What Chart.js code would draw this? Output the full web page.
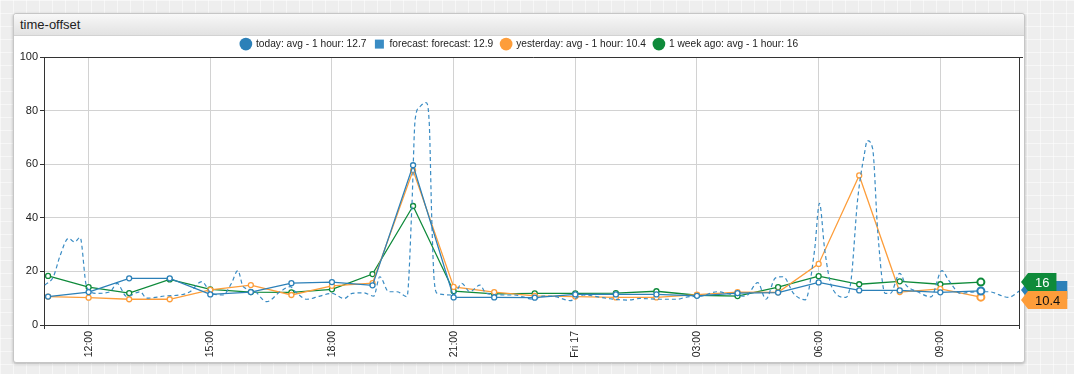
<!DOCTYPE html>
<html>
<head>
<meta charset="utf-8">
<title>time-offset</title>
<script src="https://cdn.jsdelivr.net/npm/chart.js@4.4.1/dist/chart.umd.min.js"></script>
<style>
  html, body { margin: 0; padding: 0; }
  body {
    width: 1074px; height: 374px; overflow: hidden; position: relative;
    background-color: #eeeeee;
    background-image: linear-gradient(rgba(255,255,255,.55) 1px, transparent 1px),
                      linear-gradient(90deg, rgba(255,255,255,.55) 1px, transparent 1px);
    background-size: 13px 13px;
    font-family: "Liberation Sans", Arial, sans-serif;
  }
  .widget {
    position: absolute; left: 13px; top: 13px; width: 1010px; height: 348px;
    background: #fff; border: 1px solid #c6c6c6; border-radius: 3px;
    box-shadow: 0 1px 3px rgba(0,0,0,.25);
  }
  .widget-header {
    height: 21px; line-height: 21px; padding-left: 6px;
    border-bottom: 1px solid #d2d2d2; border-radius: 3px 3px 0 0;
    background: linear-gradient(#f8f8f8, #e2e2e2);
    font-size: 13px; color: #222;
  }
  #wrap { position: absolute; left: 14px; top: 35px; width: 1060px; height: 326px; }
</style>
</head>
<body>
<div class="widget"><div class="widget-header">time-offset</div></div>
<div id="wrap"><canvas id="chart" width="1060" height="326"></canvas></div>
<script>
// hours counted from Thu 00:00
const hours = [11, 12, 13, 14, 15, 16, 17, 18, 19, 20, 21, 22, 23, 24, 25, 26, 27, 28, 29, 30, 31, 32, 33, 34];
const today = [10.6, 12.3, 17.4, 17.4, 11.4, 12.3, 15.6, 16.0, 14.8, 59.6, 10.3, 10.3, 10.2, 11.4, 11.4, 11.4, 10.9, 11.9, 12.1, 15.9, 12.9, 12.9, 12.2, 12.7];
const yesterday = [10.6, 10.2, 9.6, 9.6, 13.1, 14.9, 11.2, 14.6, 15.6, 57.7, 14.2, 12.3, 10.9, 10.6, 10.3, 10.3, 11.3, 12.3, 12.2, 22.8, 55.8, 12.3, 13.5, 10.4];
const weekAgo = [18.3, 14.1, 11.9, 17.0, 13.3, 12.3, 12.2, 13.3, 19.0, 44.4, 12.6, 11.6, 11.8, 11.8, 11.9, 12.6, 11.1, 10.8, 14.1, 18.2, 15.2, 16.3, 15.2, 16.0];

const forecastHours = [10.92, 11.13, 11.3, 11.5, 11.66, 11.79, 11.95, 12.2, 12.53, 12.7, 12.94, 13.27, 13.43, 13.92, 14.25, 14.5, 14.79, 15.03, 15.31, 15.52, 15.68, 15.81, 16.06, 16.39, 16.72, 16.97, 17.1, 17.38, 17.7, 18.0, 18.3, 18.5, 18.78, 19.03, 19.18, 19.4, 19.6, 19.85, 19.97, 20.05, 20.17, 20.32, 20.4, 20.46, 20.52, 20.6, 21.0, 21.2, 21.4, 21.65, 21.8, 22.3, 22.5, 22.97, 23.2, 23.5, 23.87, 24.2, 24.8, 25.3, 25.6, 26.1, 26.5, 26.77, 27.1, 27.5, 27.9, 28.2, 28.5, 28.7, 28.93, 29.13, 29.38, 29.67, 29.9, 30.02, 30.15, 30.32, 30.67, 30.8, 30.96, 31.13, 31.2, 31.33, 31.46, 31.64, 31.77, 32.0, 32.15, 32.44, 32.77, 33.04, 33.2, 33.5, 33.86, 34.2, 34.68, 34.96];
const forecast = [14.9, 18, 26, 32.3, 31, 32.7, 14.3, 11.8, 12.4, 15.5, 10.6, 12.4, 10, 10.9, 11.2, 12.4, 16.2, 11.8, 11.2, 15.5, 20.3, 14.3, 13, 8.7, 12.4, 14.3, 12.4, 9.6, 10.8, 11.8, 9.9, 11.8, 12, 10.8, 18, 12.4, 12.4, 10.6, 44, 76.5, 81.5, 83, 75, 40, 16.8, 11.8, 11.2, 15.5, 12.4, 14.9, 11.8, 11.2, 11.2, 9.6, 10.8, 10.6, 9.1, 11.2, 9.9, 9.3, 9.9, 9.6, 9.6, 10.5, 10.8, 12.4, 11.2, 10.8, 15.8, 9.6, 17.5, 18, 11.8, 9.4, 28, 45.4, 28, 14.3, 10.3, 16.8, 46.6, 64, 68.8, 65.9, 34.2, 11.8, 11.8, 19.3, 15, 12.4, 10.5, 20.3, 16.8, 11.8, 12.4, 12.4, 10.3, 12.8];

const seriesNames = ['today: avg - 1 hour: 12.7', 'forecast: forecast: 12.9', 'yesterday: avg - 1 hour: 10.4', '1 week ago: avg - 1 hour: 16'];
const colors = ['#2c80b8', '#3a8cc4', '#fd9d3a', '#0e8a3a'];
const xTicks = [12, 15, 18, 21, 24, 27, 30, 33];
const yTicks = [0, 20, 40, 60, 80, 100];

const pts = arr => hours.map((h, i) => ({ x: h, y: arr[i] }));
const last = hours.length - 1;
const radius = hours.map((h, i) => i === last ? 3.5 : 2.5);
const borderW = hours.map((h, i) => i === last ? 2 : 1.3);

function lineSet(label, arr, color) {
    return {
        label: label,
        data: pts(arr),
        borderColor: color,
        backgroundColor: '#fff',
        borderWidth: 1.3,
        pointRadius: radius,
        pointBorderWidth: borderW,
        pointBackgroundColor: '#fff',
        pointBorderColor: color,
        tension: 0
    };
}

// frame on top and right, plus the little corner ticks
const framePlugin = {
    id: 'frame',
    afterDraw(chart) {
        const { ctx, chartArea: a } = chart;
        ctx.save();
        ctx.strokeStyle = '#333';
        ctx.lineWidth = 1;
        ctx.beginPath();
        ctx.moveTo(a.left, a.top + 0.5);
        ctx.lineTo(a.right + 4, a.top + 0.5);
        ctx.moveTo(a.right + 0.5, a.top);
        ctx.lineTo(a.right + 0.5, a.bottom + 4);
        ctx.moveTo(a.left + 0.5, a.bottom);
        ctx.lineTo(a.left + 0.5, a.bottom + 4);
        ctx.stroke();
        ctx.restore();
    }
};

// value flags on the right edge
const flagPlugin = {
    id: 'flags',
    afterDraw(chart) {
        const { ctx, chartArea: a } = chart;
        const y = chart.scales.y;
        const gY = y.getPixelForValue(weekAgo[last]);
        const flags = [
            { v: today[last], color: colors[0], text: colors[0], cy: y.getPixelForValue(today[last]) - 1 },
            { v: yesterday[last], color: colors[2], text: '#111', cy: Math.max(y.getPixelForValue(yesterday[last]), gY + 18) },
            { v: weekAgo[last], color: colors[3], text: '#fff', cy: gY }
        ];
        ctx.save();
        ctx.font = '13px "Liberation Sans", Arial, sans-serif';
        ctx.textBaseline = 'middle';
        flags.forEach(f => {
            const label = String(f.v);
            const w = ctx.measureText(label).width + 14;
            const tip = a.right + 2;
            const bx = tip + 7;
            const h = 18;
            ctx.fillStyle = f.color;
            ctx.beginPath();
            ctx.moveTo(tip, f.cy);
            ctx.lineTo(bx, f.cy - h / 2);
            ctx.lineTo(bx + w, f.cy - h / 2);
            ctx.lineTo(bx + w, f.cy + h / 2);
            ctx.lineTo(bx, f.cy + h / 2);
            ctx.closePath();
            ctx.fill();
            ctx.fillStyle = f.text;
            ctx.textAlign = 'center';
            ctx.fillText(label, bx + w / 2, f.cy + 1);
        });
        ctx.restore();
    }
};

const legendFit = {
    id: 'legendFit',
    beforeInit(chart) {
        const fit = chart.legend.fit;
        chart.legend.fit = function () {
            fit.bind(chart.legend)();
            this.height = 26;
        };
    }
};

new Chart(document.getElementById('chart'), {
    type: 'line',
    data: {
        datasets: [
            lineSet(seriesNames[0], today, colors[0]),
            {
                label: seriesNames[1],
                data: forecastHours.map((h, i) => ({ x: h, y: forecast[i] })),
                borderColor: colors[1],
                borderWidth: 1.2,
                borderDash: [4, 3],
                pointRadius: 0,
                cubicInterpolationMode: 'monotone',
                fill: false
            },
            lineSet(seriesNames[2], yesterday, colors[2]),
            lineSet(seriesNames[3], weekAgo, colors[3])
        ]
    },
    options: {
        responsive: false,
        animation: false,
        layout: { padding: { left: 6, right: 55, top: -4, bottom: 0 } },
        plugins: {
            tooltip: { enabled: false },
            legend: {
                position: 'top',
                labels: {
                    usePointStyle: true,
                    boxWidth: 10,
                    boxHeight: 9,
                    padding: 8,
                    color: '#222',
                    font: { family: '"Liberation Sans", Arial, sans-serif', size: 10.2 },
                    generateLabels: chart => chart.data.datasets.map((ds, i) => ({
                        text: ds.label,
                        fillStyle: colors[i],
                        strokeStyle: colors[i],
                        lineWidth: 0,
                        pointStyle: i === 1 ? 'rect' : 'circle',
                        hidden: false,
                        datasetIndex: i,
                        fontColor: '#222'
                    }))
                }
            }
        },
        scales: {
            x: {
                type: 'linear',
                min: 10.9,
                max: 34.94,
                afterFit: s => { s.height = 36; },
                afterBuildTicks: s => { s.ticks = xTicks.map(v => ({ value: v })); },
                grid: { color: '#d2d2d2', drawTicks: false },
                border: { color: '#333' },
                ticks: {
                    autoSkip: false,
                    minRotation: 90,
                    maxRotation: 90,
                    padding: 6,
                    color: '#222',
                    font: { family: '"Liberation Sans", Arial, sans-serif', size: 10.5 },
                    callback: v => v === 24 ? 'Fri 17' : String(v % 24).padStart(2, '0') + ':00'
                }
            },
            y: {
                min: 0,
                max: 100,
                afterFit: s => { s.width = 24; },
                afterBuildTicks: s => { s.ticks = yTicks.map(v => ({ value: v })); },
                grid: { color: '#d2d2d2', tickColor: '#333', tickLength: 4 },
                border: { color: '#333' },
                ticks: {
                    padding: 2,
                    color: '#222',
                    font: { family: '"Liberation Sans", Arial, sans-serif', size: 11 }
                }
            }
        }
    },
    plugins: [legendFit, framePlugin, flagPlugin]
});
</script>
</body>
</html>
